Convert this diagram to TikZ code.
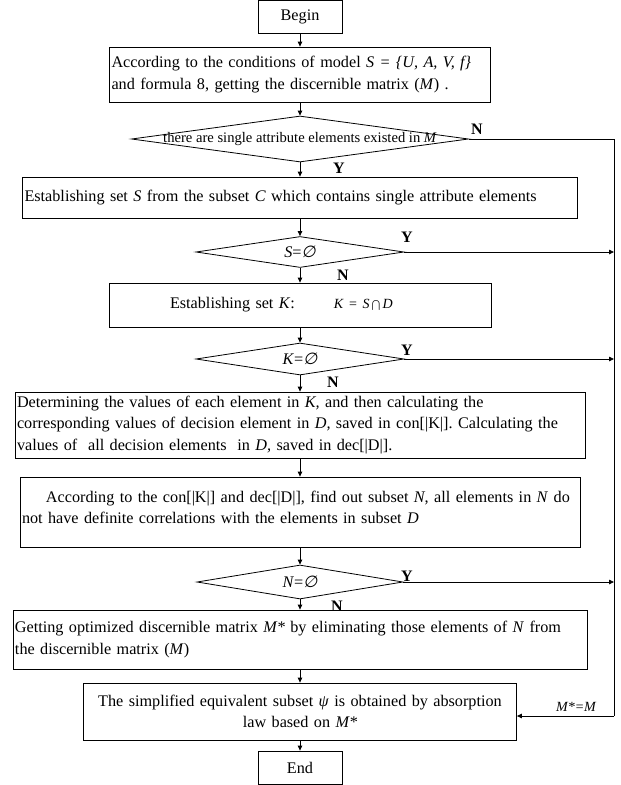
\documentclass[tikz,border=0pt]{standalone}
\usepackage{fontspec}
\setmainfont{Liberation Serif}
\newfontfamily\symf[FakeSlant=0.2]{DejaVu Sans}
\usetikzlibrary{shapes.geometric,arrows.meta}
\frenchspacing
\begin{document}
\begin{tikzpicture}[x=1pt,y=-1pt,
  every node/.style={font=\fontsize{16.2}{21.5}\selectfont},
  box/.style={draw, line width=0.8pt, rectangle, inner sep=0pt},
  dia/.style={draw, line width=0.8pt, diamond, inner sep=0pt, aspect=6},
  dtext/.style={inner sep=0pt, font=\fontsize{16.2}{18}\selectfont},
  lbl/.style={font=\fontsize{16}{18}\selectfont\bfseries, inner sep=0pt},
  arr/.style={line width=0.8pt, -{Triangle[length=5pt,width=4.5pt]}},
  ln/.style={line width=0.8pt}]
\useasboundingbox (0,0) rectangle (621,785);

\node[box, minimum width=84pt, minimum height=32.5pt] (begin) at (300,16.75) {Begin};

\node[box, minimum width=381pt, minimum height=55pt, text width=377pt, align=left] (b2) at (300,74.5)
  {According to the conditions of model \textit{S = \{U, A, V, f\}}\\and formula 8, getting the discernible matrix (\textit{M}) .};

\node[dia, minimum width=337pt, minimum height=46pt,
  label={[inner sep=0pt, font=\fontsize{14.6}{16}\selectfont]center:there are single attribute elements existed in \textit{M}}] (d1) at (300,139) {};

\node[box, minimum width=555pt, minimum height=41pt, text width=551pt, align=left] (b3) at (300,197.5)
  {Establishing set \textit{S} from the subset \textit{C} which contains single attribute elements};

\node[dia, minimum width=208pt, minimum height=31pt,
  label={[dtext]center:\textit{S}={\symf ∅}}] (d2) at (300,252) {};

\node[box, minimum width=382pt, minimum height=44pt, text width=382pt, align=left] (b4) at (300,305)
  {\hspace*{61pt}Establishing set \textit{K}:\hspace{39pt}{\fontsize{14}{15}\selectfont\textit{K} = \textit{S}\,$\bigcap$\,\textit{D}}};

\node[dia, minimum width=208pt, minimum height=32pt,
  label={[dtext]center:\textit{K}={\symf ∅}}] (d3) at (300,359) {};

\node[box, minimum width=570pt, minimum height=66pt, text width=566pt, align=left] (b5) at (300,425)
  {Determining the values of each element in \textit{K,} and then calculating the\\corresponding values of decision element in \textit{D,} saved in con[|K|]. Calculating the\\values of \ all decision elements \ in \textit{D,} saved in dec[|D|].};

\node[box, minimum width=560pt, minimum height=70pt] (b6) at (300,512) {};
\node[inner sep=0pt, text width=556pt, align=left] (t6) at (300,507.5)
  {\hspace*{24pt}According to the con[|K|] and dec[|D|], find out subset \textit{N}, all elements in \textit{N} do\\not have definite correlations with the elements in subset \textit{D}};

\node[dia, minimum width=206pt, minimum height=34pt,
  label={[dtext]center:\textit{N}={\symf ∅}}] (d4) at (300,582) {};

\node[box, minimum width=574pt, minimum height=59pt, text width=570pt, align=left] (b7) at (300,639.5)
  {Getting optimized discernible matrix \textit{M*} by eliminating those elements of \textit{N} from\\the discernible matrix (\textit{M})};

\node[box, minimum width=433pt, minimum height=57pt, text width=429pt, align=center] (b8) at (300,711.5)
  {The simplified equivalent subset \textit{ψ} is obtained by absorption\\law based on \textit{M*}};

\node[box, minimum width=84pt, minimum height=33.5pt] (end) at (300,767.75) {End};

% labels
\node[lbl] (n1) at (477,129) {N};
\node[lbl] (y1) at (339,168) {Y};
\node[lbl] (y2) at (407,237) {Y};
\node[lbl] (n2) at (343,275) {N};
\node[lbl] (y3) at (407,350) {Y};
\node[lbl] (n3) at (333,382) {N};
\node[lbl] (y4) at (407,576) {Y};
\node[lbl] (n4) at (337,606) {N};
\node[inner sep=0pt, font=\fontsize{14}{16}\selectfont\itshape] (mm) at (576,707) {M*=M};

% main flow
\draw[arr] (begin.south) -- (b2.north);
\draw[arr] (b2.south) -- (d1.north);
\draw[arr] (d1.south) -- (b3.north);
\draw[arr] (b3.south) -- (d2.north);
\draw[arr] (d2.south) -- (b4.north);
\draw[arr] (b4.south) -- (d3.north);
\draw[arr] (d3.south) -- (b5.north);
\draw[arr] (b5.south) -- (b6.north);
\draw[arr] (b6.south) -- (d4.north);
\draw[arr] (d4.south) -- (b7.north);
\draw[arr] (b7.south) -- (b8.north);
\draw[arr] (b8.south) -- (end.north);

% right side
\coordinate (rt) at (614,139);
\coordinate (rb) at (614,716);
\draw[ln] (d1.east) -- (rt) -- (rb);
\draw[arr] (rb) -- (rb -| b8.east);
\draw[arr] (d2.east) -- (d2.east -| rt);
\draw[arr] (d3.east) -- (d3.east -| rt);
\draw[arr] (d4.east) -- (d4.east -| rt);
\end{tikzpicture}
\end{document}
